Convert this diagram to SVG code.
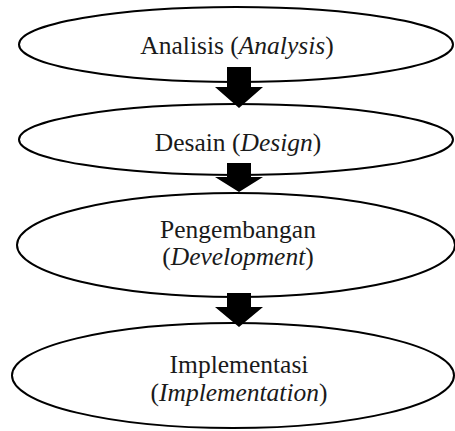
<svg xmlns="http://www.w3.org/2000/svg" width="455" height="431" viewBox="0 0 455 431">
<style>
.n{fill:#fff;stroke:#000;stroke-width:2}
.t{font-family:'Liberation Serif',serif;font-size:25.5px;fill:#1a1a1a;text-anchor:middle}
.i{font-style:italic}
.a{fill:#000}
</style>
<rect width="455" height="431" fill="#fff"/>
<g id="node-analisis">
<ellipse class="n" cx="236" cy="44.5" rx="217" ry="37.5"/>
<text class="t" x="237" y="54">Analisis (<tspan class="i">Analysis</tspan>)</text>
</g>
<g id="node-desain">
<ellipse class="n" cx="236" cy="139.5" rx="217" ry="35.5"/>
<text class="t" x="238" y="151">Desain (<tspan class="i">Design</tspan>)</text>
</g>
<g id="node-pengembangan">
<ellipse class="n" cx="236" cy="245" rx="219" ry="52"/>
<text class="t" x="238" y="238">Pengembangan</text>
<text class="t" x="238" y="265">(<tspan class="i">Development</tspan>)</text>
</g>
<g id="node-implementasi">
<ellipse class="n" cx="233" cy="375.5" rx="221" ry="52.5"/>
<text class="t" x="239" y="373">Implementasi</text>
<text class="t" x="239" y="401">(<tspan class="i">Implementation</tspan>)</text>
</g>
<g id="connectors">
<polygon class="a" points="227,67 251,67 251,87 263,87 239,108 215,87 227,87"/>
<polygon class="a" points="227,163 251,163 251,177 263,177 239,192 215,177 227,177"/>
<polygon class="a" points="227,293 251,293 251,307 263,307 239,327 215,307 227,307"/>
</g>
</svg>
